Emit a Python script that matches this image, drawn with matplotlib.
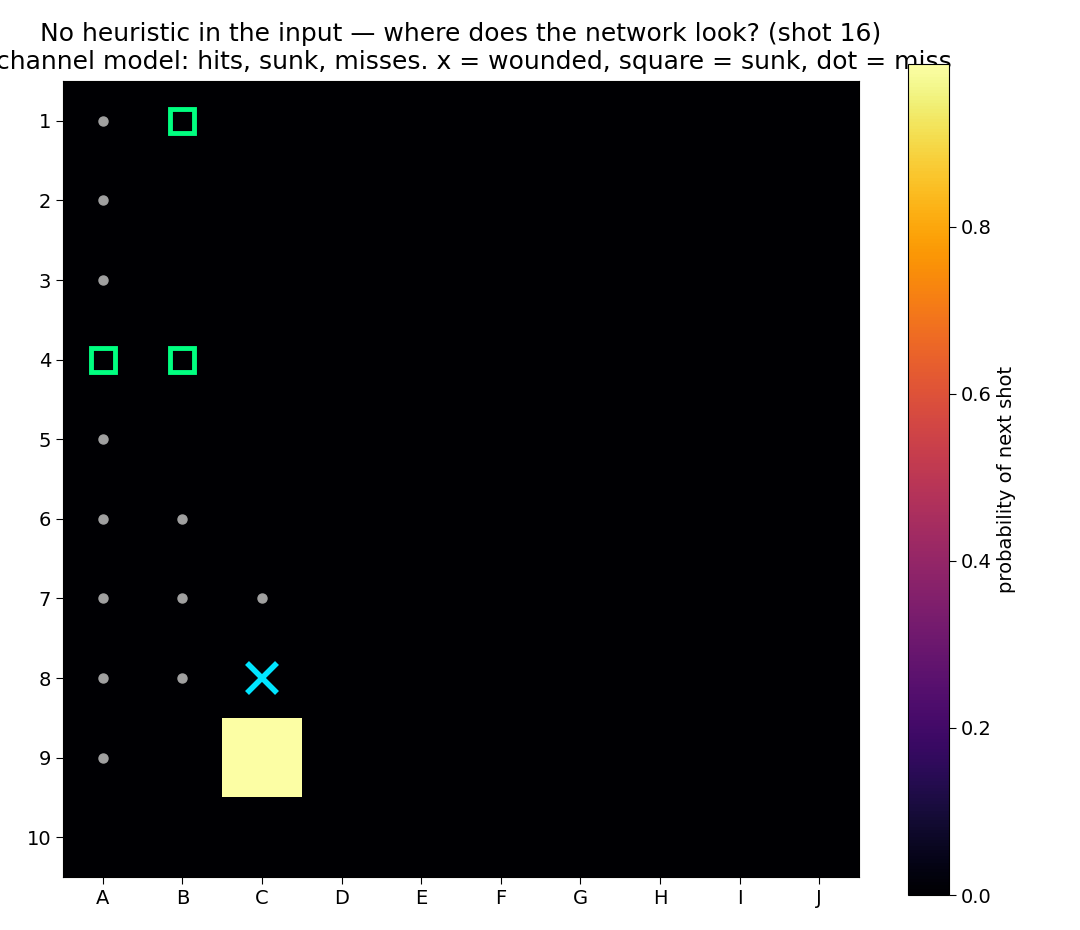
import numpy as np
import matplotlib
matplotlib.use('Agg')
import matplotlib.pyplot as plt

cols = ['A', 'B', 'C', 'D', 'E', 'F', 'G', 'H', 'I', 'J']
rows = [str(i) for i in range(1, 11)]

# (col, row) zero-based
misses = [(0, 0), (0, 1), (0, 2), (0, 4), (0, 5), (0, 6), (0, 7), (0, 8),
          (1, 5), (1, 6), (1, 7), (2, 6)]
sunk = [(1, 0), (0, 3), (1, 3)]
wounded = [(2, 7)]
hot_cell = (2, 8)
hot_value = 0.995

probs = np.zeros((10, 10))
probs[hot_cell[1], hot_cell[0]] = hot_value

fig = plt.figure(figsize=(10.8, 9.3), dpi=100)
ax = fig.add_axes([63/1080, 1 - 877/930, 796/1080, 796/930])
cax = fig.add_axes([908/1080, 1 - 895/930, 41/1080, 831/930])

im = ax.imshow(probs, cmap='inferno', vmin=0, vmax=hot_value)
ax.plot([c for c, r in misses], [r for c, r in misses], 'o', color='#a0a0a0', markersize=6.5, linestyle='none')
ax.plot([c for c, r in sunk], [r for c, r in sunk], 's', markerfacecolor='none',
        markeredgecolor='#00ff80', markersize=17, markeredgewidth=3.5, linestyle='none')
ax.plot([c for c, r in wounded], [r for c, r in wounded], 'x', color='#00e5ff',
        markersize=22, markeredgewidth=4, linestyle='none')

ax.set_xticks(range(10))
ax.set_xticklabels(cols, fontsize=14)
ax.set_yticks(range(10))
ax.set_yticklabels(rows, fontsize=14)
ax.tick_params(length=5)
ax.set_xlim(-0.5, 9.5)
ax.set_ylim(9.5, -0.5)
ax.set_title('No heuristic in the input \u2014 where does the network look? (shot 16)\n'
             '3-channel model: hits, sunk, misses. x = wounded, square = sunk, dot = miss',
             fontsize=18, pad=9)

cb = fig.colorbar(im, cax=cax)
cb.set_label('probability of next shot', fontsize=14)
cb.ax.tick_params(labelsize=14, length=5)

fig.savefig('out.png', dpi=100)
